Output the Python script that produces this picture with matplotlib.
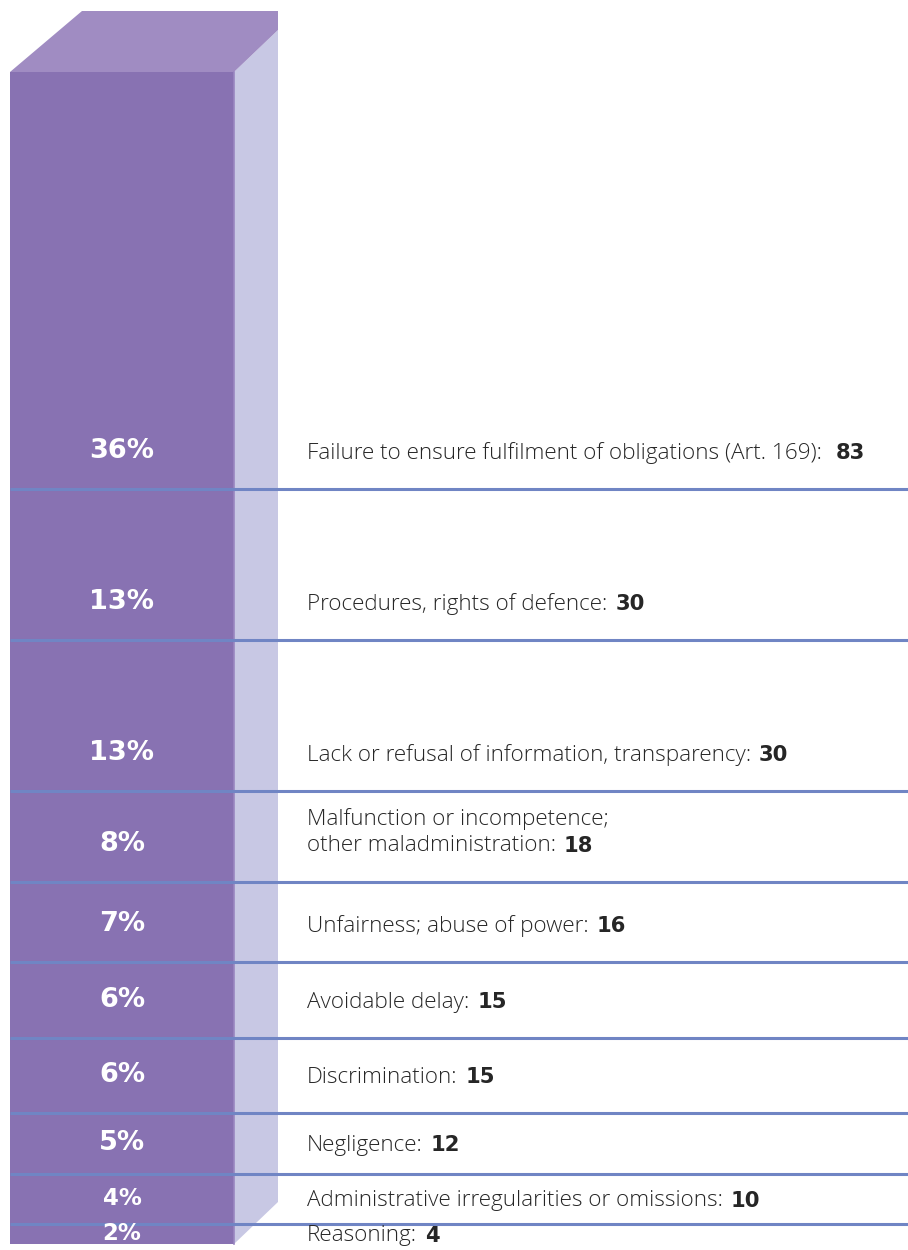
import matplotlib
matplotlib.use("Agg")
import matplotlib.pyplot as plt
from matplotlib.patches import Polygon
from matplotlib.transforms import offset_copy

# ---- data ----
categories = [
    "Failure to ensure fulfilment of obligations (Art. 169):",
    "Procedures, rights of defence:",
    "Lack or refusal of information, transparency:",
    "Malfunction or incompetence;\nother maladministration:",
    "Unfairness; abuse of power:",
    "Avoidable delay:",
    "Discrimination:",
    "Negligence:",
    "Administrative irregularities or omissions:",
    "Reasoning:",
]
counts = [83, 30, 30, 18, 16, 15, 15, 12, 10, 4]
percents = [36, 13, 13, 8, 7, 6, 6, 5, 4, 2]

# ---- style ----
FRONT = "#8872b2"
TOP = "#a08cc2"
SIDE = "#c8c8e4"
LINE = "#7085c4"
TEXT = "#262626"
FONT = "Open Sans"
BOLDFONT = "DejaVu Sans"

W, H = 908, 1250
fig = plt.figure(figsize=(W / 100, H / 100), dpi=100)
ax = fig.add_axes([0, 0, 1, 1])
ax.set_xlim(0, W)
px_per = 5.03
top_px = 72
total = sum(counts)
ax.set_ylim((H - top_px) / px_per, -top_px / px_per)
ax.axis("off")

bx0, bx1 = 10, 234
depth_x = 44

starts = []
s = 0
for v in counts:
    starts.append(s)
    s += v
ax.bar([(bx0 + bx1) / 2] * len(counts), counts, bottom=starts,
       width=bx1 - bx0, color=FRONT, edgecolor="none", zorder=2)

y_top = 0
y_bot = total
side = Polygon([(bx1, y_top), (bx1 + depth_x, y_top - 42 / px_per),
                (bx1 + depth_x, y_bot - 42 / px_per), (bx1, y_bot)],
               closed=True, facecolor=SIDE, edgecolor="none", zorder=1)
ax.add_patch(side)
topf = Polygon([(bx0, y_top), (bx0 + 72, y_top - 61 / px_per),
                (bx1 + depth_x, y_top - 61 / px_per),
                (bx1 + depth_x, y_top - 42 / px_per), (bx1, y_top)],
               closed=True, facecolor=TOP, edgecolor="none", zorder=1)
ax.add_patch(topf)
ax.plot([bx1, bx1], [y_top, y_bot], color="#9a86c0", lw=1.2, zorder=3)

for st, v in zip(starts[:-1], counts[:-1]):
    ax.plot([bx0, W], [st + v, st + v], color=LINE, lw=2.2, zorder=4,
            solid_capstyle="butt")

renderer = fig.canvas.get_renderer()
line_h_pts = 19.5
for k, (cat, v, p, st) in enumerate(zip(categories, counts, percents, starts)):
    end = st + v
    yc = end - min(v / 2, 7.6)
    size = 19.5 if v >= 12 else 16.5
    ax.text((bx0 + bx1) / 2, yc, f"{p}%", color="white", fontsize=size,
            fontweight="bold", family=BOLDFONT, ha="center", va="center",
            zorder=5)
    lines = cat.split("\n")
    last = None
    for i, ln in enumerate(reversed(lines)):
        tr = offset_copy(ax.transData, fig=fig, x=0, y=i * line_h_pts,
                         units="points")
        t = ax.text(307, yc + 0.4, ln, color=TEXT, fontsize=16.2,
                    family=FONT, fontweight="light", ha="left", va="center",
                    transform=tr, zorder=5)
        if i == 0:
            last = t
    bb = last.get_window_extent(renderer=renderer)
    x_end = ax.transData.inverted().transform((bb.x1, bb.y0))[0]
    gap = 14 if k == 0 else 8
    ax.text(x_end + gap, yc + 0.4, f"{v}", color=TEXT, fontsize=15.2,
            fontweight="bold", family=BOLDFONT, ha="left", va="center",
            zorder=5)

fig.savefig("out.png", dpi=100, facecolor="white")
